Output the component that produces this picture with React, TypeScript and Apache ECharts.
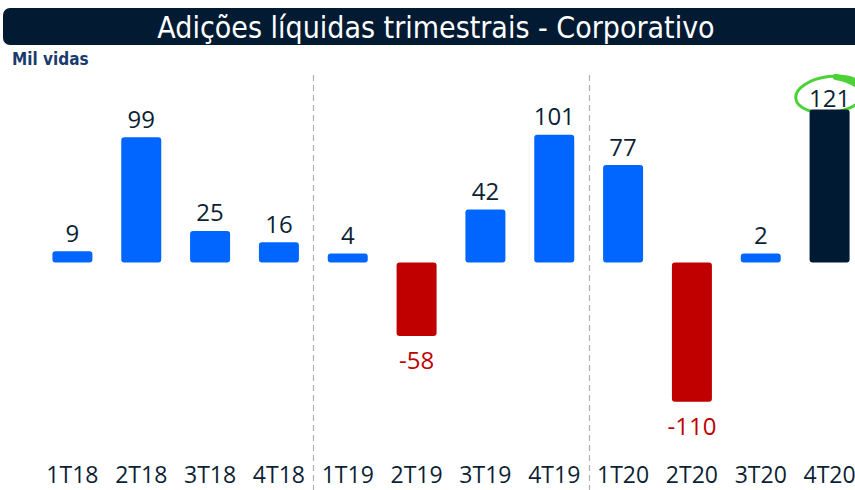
import React, { useEffect, useRef } from "react";
import * as echarts from "echarts";

const categories = ["1T18", "2T18", "3T18", "4T18", "1T19", "2T19", "3T19", "4T19", "1T20", "2T20", "3T20", "4T20"];
const values = [9, 99, 25, 16, 4, -58, 42, 101, 77, -110, 2, 121];
const separatorsAfter = [3, 7];
const title = "Adições líquidas trimestrais - Corporativo";
const unitLabel = "Mil vidas";

const BLUE = "#0066ff";
const RED = "#c00000";
const NAVY = "#001a33";
const TEXT = "#0d1f35";
const NARROW = "Liberation Sans Narrow, DejaVu Sans Condensed, Open Sans";

export default function App() {
  const ref = useRef<HTMLDivElement>(null);
  useEffect(() => {
    if (!ref.current) return;
    const chart = echarts.init(ref.current, null, { renderer: "svg" });
    const last = values.length - 1;
    const data = values.map((v, i) => {
      const color = i === last ? NAVY : v < 0 ? RED : BLUE;
      return {
        value: v,
        itemStyle: { color, borderRadius: 3 },
        label: {
          show: true,
          position: v < 0 ? "bottom" : "top",
          distance: i === last ? 0 : v < 0 ? 12 : 7,
          color: v < 0 ? RED : TEXT,
          fontSize: 24,
          fontFamily: "Open Sans",
          formatter: String(v),
        },
      };
    });
    chart.setOption({
      animation: false,
      grid: { left: 38, width: 826, top: 60, bottom: 50, outerBoundsMode: "none", containLabel: false },
      xAxis: {
        type: "category",
        data: categories,
        axisLine: { show: false },
        axisTick: { show: false },
        axisLabel: { color: TEXT, fontSize: 23, fontFamily: "Open Sans", margin: 22 },
      },
      yAxis: { type: "value", min: -140.3, max: 160.1, show: false, splitLine: { show: false } },
      series: [{ type: "bar", data, barWidth: 40, barMinHeight: 9 }],
    });
    const graphics: any[] = [
      {
        type: "rect",
        shape: { x: 3, y: 8, width: 870, height: 37, r: [7, 0, 0, 7] },
        style: { fill: "#021b33" },
      },
      {
        type: "text",
        x: 436,
        y: 27,
        style: {
          text: title,
          fill: "#ffffff",
          fontSize: 30,
          fontFamily: NARROW,
          align: "center",
          verticalAlign: "middle",
        },
      },
      {
        type: "text",
        x: 12,
        y: 59,
        style: {
          text: unitLabel,
          fill: "#1a3a6e",
          fontSize: 17,
          fontWeight: "bold",
          fontFamily: NARROW,
          verticalAlign: "middle",
        },
      },
    ];
    separatorsAfter.forEach((i) => {
      const a = chart.convertToPixel({ xAxisIndex: 0 }, categories[i]) as number;
      const b = chart.convertToPixel({ xAxisIndex: 0 }, categories[i + 1]) as number;
      const x = Math.round((a + b) / 2) + 0.5;
      graphics.push({
        type: "line",
        shape: { x1: x, y1: 75, x2: x, y2: 490 },
        style: { stroke: "#b0b0b0", lineWidth: 1.2, lineDash: [6, 4] },
      });
    });
    const p = chart.convertToPixel({ xAxisIndex: 0, yAxisIndex: 0 }, [categories[last], values[last]]) as number[];
    const cx = p[0] + 1;
    const cy = p[1] - 15;
    const rx = 35;
    const ry = 18;
    const rot = -0.12;
    graphics.push({
      type: "ellipse",
      x: cx,
      y: cy,
      rotation: -rot,
      shape: { cx: 0, cy: 0, rx, ry },
      style: { fill: "none", stroke: "#4cd137", lineWidth: 3 },
    });
    const pts: number[][] = [];
    for (let k = 0; k <= 12; k++) {
      const t = (-85 + (55 * k) / 12) * (Math.PI / 180);
      const ex = rx * Math.cos(t);
      const ey = ry * Math.sin(t);
      pts.push([ex * Math.cos(rot) + ey * Math.sin(rot), -ex * Math.sin(rot) + ey * Math.cos(rot)]);
    }
    graphics.push({
      type: "polyline",
      x: cx,
      y: cy,
      shape: { points: pts },
      style: { stroke: "#4cd137", lineWidth: 6, fill: "none", lineCap: "round" },
    });
    chart.setOption({ graphic: graphics });
    return () => chart.dispose();
  }, []);
  return <div ref={ref} style={{ width: 855, height: 490, position: "absolute", left: 0, top: 0 }} />;
}
